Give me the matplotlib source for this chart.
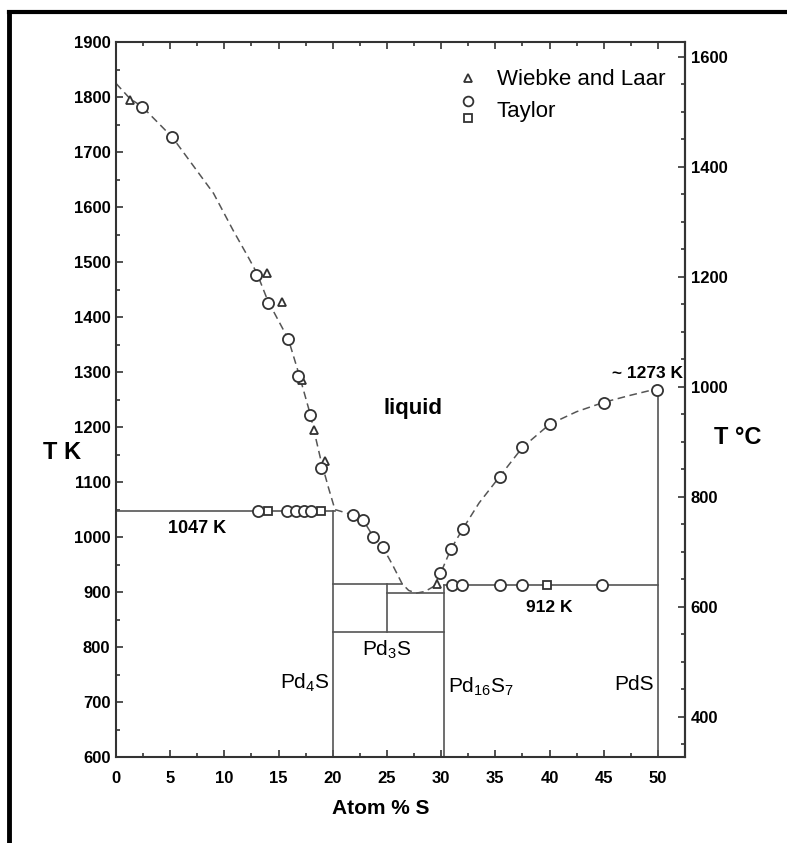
import numpy as np
import matplotlib
matplotlib.use("Agg")
import matplotlib.pyplot as plt
from matplotlib.lines import Line2D
from matplotlib.legend_handler import HandlerBase
from matplotlib.ticker import MultipleLocator

plt.rcParams["font.family"] = ["Liberation Sans", "DejaVu Sans"]
plt.rcParams["mathtext.fontset"] = "custom"
plt.rcParams["mathtext.rm"] = "Liberation Sans"
plt.rcParams["mathtext.it"] = "Liberation Sans"

# liquidus curve (dashed)
liq_x = [0, 1.3, 2.4, 5.2, 9.0, 10.8, 12.2, 13.0, 14.0, 15.9, 16.9, 17.9, 18.9,
         19.6, 20.2, 21.9, 22.8, 23.7, 24.6, 25.5, 26.4, 27.0, 27.7, 28.5, 29.3,
         29.9, 30.9, 32.0, 33.5, 35.4, 37.5, 40.0, 42.5, 45.0, 47.5, 50.0]
liq_t = [1825, 1797, 1783, 1727, 1625, 1558, 1509, 1480, 1430, 1360, 1295, 1225, 1140,
         1090, 1050, 1040, 1031, 1002, 982, 950, 915, 903, 898, 901, 910,
         932, 978, 1015, 1062, 1110, 1163, 1205, 1228, 1245, 1258, 1270]

# Wiebke and Laar (triangles)
wl_x = [1.3, 13.9, 15.3, 17.2, 18.3, 19.3, 29.6]
wl_t = [1795, 1480, 1427, 1285, 1195, 1138, 915]

# Taylor, circles
tc_x = [2.4, 5.2, 12.9, 14.0, 15.9, 16.8, 17.9, 18.9,
        13.1, 15.8, 16.6, 17.3, 18.0,
        21.9, 22.8, 23.7, 24.6, 29.9, 30.9, 32.0, 35.4, 37.5, 40.0, 45.0, 49.9,
        31.0, 31.9, 35.4, 37.5, 44.8]
tc_t = [1782, 1727, 1476, 1425, 1360, 1293, 1222, 1126,
        1047, 1047, 1047, 1047, 1047,
        1040, 1031, 1000, 982, 934, 978, 1015, 1109, 1164, 1205, 1244, 1268,
        912, 912, 912, 912, 912]

# Taylor, squares
ts_x = [14.0, 18.9, 39.8]
ts_t = [1047, 1047, 912]

# phase boundaries (solid): (x0, x1, t0, t1)
bounds = [
    (0, 20.2, 1047, 1047),   # 1047 K isotherm
    (20, 20, 600, 1047),     # Pd4S
    (20, 26.4, 914, 914),
    (25, 30.3, 898, 898),
    (25, 25, 827, 914),
    (20, 30.3, 827, 827),
    (30.3, 30.3, 600, 912),  # Pd16S7
    (30.3, 50, 912, 912),    # 912 K isotherm
    (50, 50, 600, 1270),     # PdS
]

celsius_ticks = [400, 600, 800, 1000, 1200, 1400, 1600]

ink = "#333333"

fig = plt.figure(figsize=(7.87, 8.43), dpi=100)
ax = fig.add_axes([0.1474, 0.102, 0.7230, 0.848])

for x0, x1, t0, t1 in bounds:
    ax.plot([x0, x1], [t0, t1], color="#555555", lw=1.2)

ax.plot(liq_x, liq_t, color="#555555", lw=1.1, ls=(0, (5, 3)))

mk = dict(ls="none", mfc="white", mec=ink, mew=1.3)
ax.plot(wl_x, wl_t, marker="^", ms=6, **mk)
ax.plot(tc_x, tc_t, marker="o", ms=8, **mk)
ax.plot(ts_x, ts_t, marker="s", ms=6, **mk)

ax.set_xlim(0, 52.5)
ax.set_ylim(600, 1900)
ax.set_xticks([0, 5, 10, 15, 20, 25, 30, 35, 40, 45, 50])
ax.xaxis.set_minor_locator(MultipleLocator(2.5))
ax.yaxis.set_major_locator(MultipleLocator(100))
ax.yaxis.set_minor_locator(MultipleLocator(50))
ax.tick_params(which="both", direction="in", top=True, right=False, color=ink,
               width=1.2)
ax.tick_params(which="major", length=5)
ax.tick_params(which="minor", length=3)
ax.tick_params(axis="x", pad=10, labelsize=12)
ax.tick_params(axis="y", pad=4, labelsize=12)
for lab in ax.get_xticklabels() + ax.get_yticklabels():
    lab.set_fontweight("bold")
for s in ax.spines.values():
    s.set_color(ink)
    s.set_linewidth(1.5)

sec = ax.secondary_yaxis("right", functions=(lambda k: k - 273, lambda c: c + 273))
sec.set_yticks(celsius_ticks)
sec.yaxis.set_minor_locator(MultipleLocator(50))
sec.tick_params(which="both", direction="in", color=ink, width=1.2, pad=4, labelsize=12)
sec.tick_params(which="major", length=5)
sec.tick_params(which="minor", length=3)
sec.spines["right"].set_color(ink)
sec.spines["right"].set_linewidth(1.5)
for lab in sec.get_yticklabels():
    lab.set_fontweight("bold")

# annotations
ax.text(7.5, 1016, "1047 K", fontsize=13, fontweight="bold", ha="center", va="center")
ax.text(40.0, 871, "912 K", fontsize=12.5, fontweight="bold", ha="center", va="center")
ax.text(27.4, 1234, "liquid", fontsize=16, fontweight="bold", ha="center", va="center")
ax.text(52.3, 1297, "~ 1273 K", fontsize=12.5, fontweight="bold", ha="right", va="center")
ax.text(19.7, 735, r"Pd$_4$S", fontsize=15, ha="right", va="center")
ax.text(25.0, 795, r"Pd$_3$S", fontsize=15, ha="center", va="center")
ax.text(30.6, 727, r"Pd$_{16}$S$_7$", fontsize=15, ha="left", va="center")
ax.text(49.6, 731, "PdS", fontsize=15, ha="right", va="center")

fig.text(0.079, 0.463, "T K", fontsize=17, fontweight="bold", ha="center", va="center")
fig.text(0.937, 0.481, "T °C", fontsize=17, fontweight="bold", ha="center", va="center")
fig.text(0.484, 0.0415, "Atom % S", fontsize=15, fontweight="bold", ha="center", va="center")


class StackedHandler(HandlerBase):
    # circle above square, one label
    def create_artists(self, legend, orig_handle, xdescent, ydescent, width,
                       height, fontsize, trans):
        cx = width / 2 - xdescent
        cy = height / 2 - ydescent
        off = 0.38 * fontsize
        a = Line2D([cx], [cy + off], marker="o", ms=7, **mk)
        b = Line2D([cx], [cy - off], marker="s", ms=6, **mk)
        for l in (a, b):
            l.set_transform(trans)
        return [a, b]


h_tri = Line2D([], [], marker="^", ms=6, **mk)
h_tay = Line2D([], [], marker="o", ms=7, **mk)
leg = ax.legend([h_tri, h_tay], ["Wiebke and Laar", "Taylor"],
                handler_map={h_tay: StackedHandler()},
                loc="upper left", bbox_to_anchor=(0.599, 0.962), frameon=False,
                fontsize=16, handlelength=1.0, handletextpad=0.8, borderpad=0,
                labelspacing=0.5, borderaxespad=0)

# black frame lines at top and left of the picture
fig.add_artist(Line2D([9 / 787, 1], [1 - 12 / 843, 1 - 12 / 843], color="black",
                      lw=3, transform=fig.transFigure))
fig.add_artist(Line2D([9 / 787, 9 / 787], [0, 1 - 12 / 843], color="black",
                      lw=3.5, transform=fig.transFigure))

fig.savefig("out.png", dpi=100)
